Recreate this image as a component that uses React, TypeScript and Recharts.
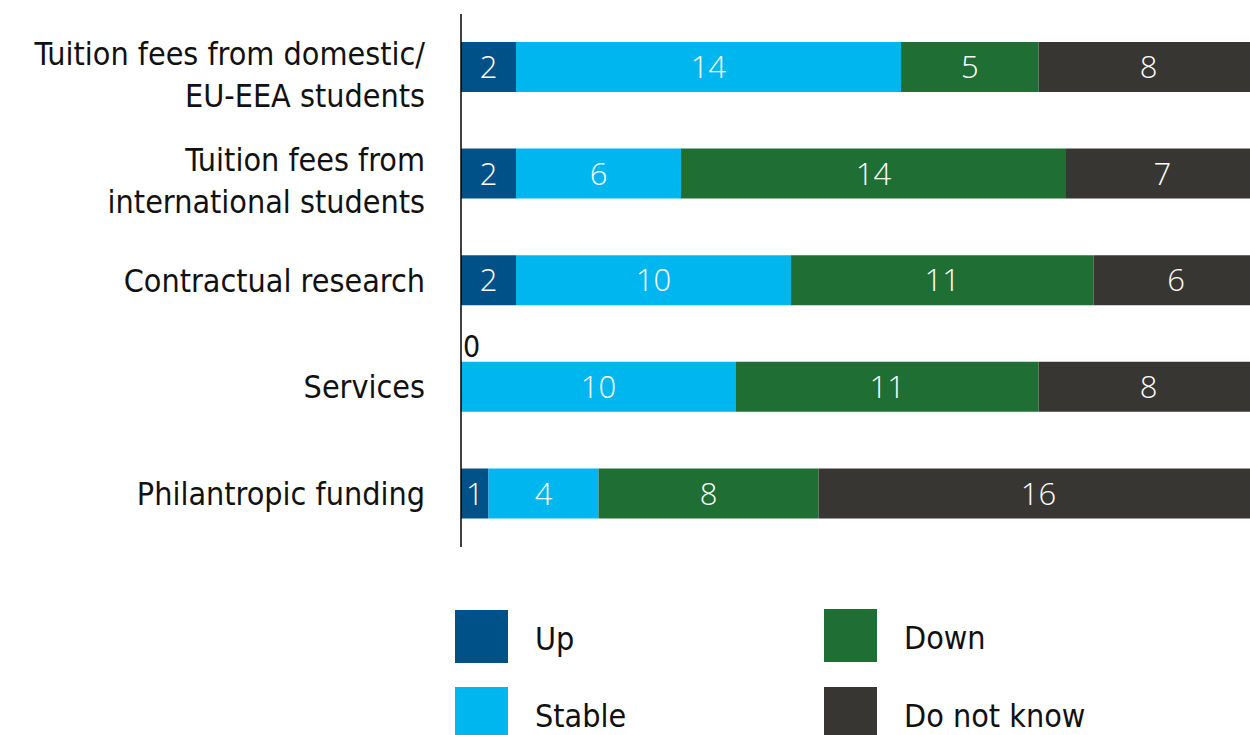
import React from "react";
import { BarChart, Bar, XAxis, YAxis, LabelList } from "recharts";

const categories = [
  "Tuition fees from domestic/\nEU-EEA students",
  "Tuition fees from\ninternational students",
  "Contractual research",
  "Services",
  "Philantropic funding",
];
const up = [2, 2, 2, 0, 1];
const stable = [14, 6, 10, 10, 4];
const down = [5, 14, 11, 11, 8];
const dontKnow = [8, 7, 6, 8, 16];

const seriesNames = ["Up", "Stable", "Down", "Do not know"];
const seriesKeys = ["up", "stable", "down", "dontKnow"];
const seriesColors = ["#005187", "#00b6ef", "#1f6e34", "#383632"];

const data = categories.map((name, i) => ({
  name,
  up: up[i],
  stable: stable[i],
  down: down[i],
  dontKnow: dontKnow[i],
}));

const LABEL_FONT = "'Liberation Sans Narrow', 'DejaVu Sans Condensed', sans-serif";
const VALUE_FONT = "'Open Sans', sans-serif";

const CategoryTick = (props: any) => {
  const { y, payload } = props;
  const lines = String(payload.value).split("\n");
  const lh = 42;
  const start = -((lines.length - 1) * lh) / 2 + (lines.length > 1 ? 7 : 0);
  return (
    <text
      x={425}
      y={y}
      textAnchor="end"
      fontFamily={LABEL_FONT}
      fontSize={32}
      fill="#111"
    >
      {lines.map((l, i) => (
        <tspan key={i} x={425} y={y + start + i * lh} dy="0.35em">
          {l}
        </tspan>
      ))}
    </text>
  );
};

const makeLabel = (seriesIndex: number) => (props: any) => {
  const { x, y, width, height, value, index } = props;
  const parts: any[] = [];
  // a zero "Up" value has no bar; show its label above the start of the row
  if (seriesIndex === 1 && up[index] === 0) {
    parts.push(
      <text
        key="zero"
        x={x + 2}
        y={y - 5}
        textAnchor="start"
        fontFamily={LABEL_FONT}
        fontSize={30}
        fill="#111"
      >
        {up[index]}
      </text>
    );
  }
  if (value !== 0) {
    parts.push(
      <text
        key="v"
        x={x + width / 2}
        y={y + height / 2}
        dy="0.36em"
        textAnchor="middle"
        fontFamily={VALUE_FONT}
        fontWeight={300}
        fontSize={31}
        fill="#ffffff"
      >
        {value}
      </text>
    );
  }
  return <g>{parts}</g>;
};

const legendPos = [
  { left: 455, top: 610 },
  { left: 455, top: 687 },
  { left: 824, top: 609 },
  { left: 824, top: 687 },
];

export default function App() {
  return (
    <div
      style={{
        position: "absolute",
        left: 0,
        top: 0,
        width: 1250,
        height: 735,
        overflow: "hidden",
        background: "#fff",
      }}
    >
      <BarChart
        width={1260}
        height={735}
        data={data}
        layout="vertical"
        margin={{ top: 14, right: 1.5, bottom: 188, left: 0 }}
        barSize={50}
      >
        <XAxis type="number" domain={[0, 29]} hide />
        <YAxis
          type="category"
          dataKey="name"
          width={461}
          axisLine={{ stroke: "#000", strokeWidth: 1.5 }}
          tickLine={false}
          tick={<CategoryTick />}
          interval={0}
        />
        {seriesKeys.map((k, i) => {
          const Lbl = makeLabel(i);
          return (
            <Bar
              key={k}
              dataKey={k}
              name={seriesNames[i]}
              stackId="a"
              fill={seriesColors[i]}
              isAnimationActive={false}
            >
              <LabelList dataKey={k} content={<Lbl />} />
            </Bar>
          );
        })}
      </BarChart>
      {seriesNames.map((n, i) => (
        <div
          key={n}
          style={{
            position: "absolute",
            left: legendPos[i].left,
            top: legendPos[i].top,
            display: "flex",
            alignItems: "center",
            height: 53,
          }}
        >
          <div style={{ width: 53, height: 53, background: seriesColors[i] }} />
          <span
            style={{
              marginLeft: 27,
              fontFamily: LABEL_FONT,
              fontSize: 32,
              color: "#111",
              position: "relative",
              top: 2,
            }}
          >
            {n}
          </span>
        </div>
      ))}
    </div>
  );
}
